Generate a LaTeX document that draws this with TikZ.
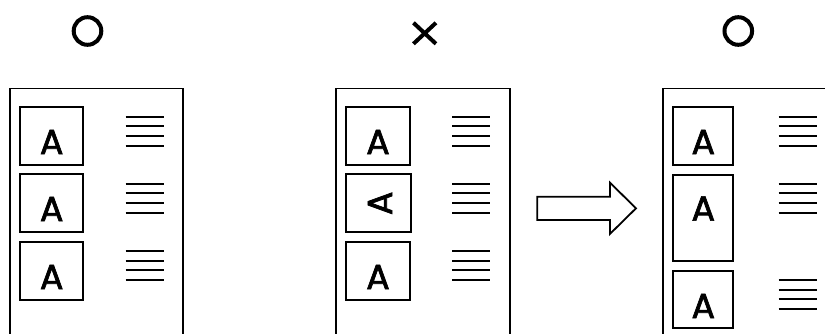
\documentclass[tikz,border=0pt]{standalone}
\usepackage{fontspec}
\setmainfont{Poppins}
\newfontfamily\afont{Poppins}[FakeBold=2]
\usetikzlibrary{shapes.misc}
\begin{document}
\begin{tikzpicture}[x=1pt,y=-1pt,line join=miter,
  pageframe/.style={draw,line width=1.8pt},
  abox/.style={draw,line width=1.8pt,inner sep=0pt},
  txtline/.style={line width=1.8pt},
  letter/.style={font=\afont\fontsize{35}{35}\selectfont,inner sep=0pt},
  mark/.style={line width=4pt}]
\useasboundingbox (0,0) rectangle (825,334);
\begin{scope}
\clip (0,0) rectangle (825,334);
% marks
\node[circle,draw,line width=4pt,minimum size=27.6pt,inner sep=0pt] (ok1) at (87.5,31) {};
\node[cross out,draw,line width=4pt,minimum width=18.5pt,minimum height=17pt,inner sep=0pt] (ng) at (424.7,33.3) {};
\node[circle,draw,line width=4pt,minimum size=27.6pt,inner sep=0pt] (ok2) at (738.3,31) {};
% pages
\draw[pageframe] (10,400) -- (10,88.5) -- (183,88.5) -- (183,400);
\draw[pageframe] (336.3,400) -- (336.3,88.5) -- (509.7,88.5) -- (509.7,400);
\draw[pageframe] (663.3,400) -- (663.3,88.5) -- (836.7,88.5) -- (836.7,400);
% page 1 boxes
\node[abox,minimum width=63.6pt,minimum height=58pt] (p1a) at (51.5,136) {};
\node[abox,minimum width=63.6pt,minimum height=58pt] (p1b) at (51.5,203) {};
\node[abox,minimum width=63.6pt,minimum height=58pt] (p1c) at (51.5,271) {};
\node[letter] (p1al) at (51.7,142) {A};
\node[letter] (p1bl) at (51.7,209) {A};
\node[letter] (p1cl) at (51.7,277) {A};
% page 2 boxes
\node[abox,minimum width=64pt,minimum height=58pt] (p2a) at (378,136) {};
\node[abox,minimum width=65.3pt,minimum height=58pt] (p2b) at (378.7,203) {};
\node[abox,minimum width=64pt,minimum height=58pt] (p2c) at (378,271) {};
\node[letter] (p2al) at (378,142) {A};
\node[letter,rotate=90] (p2bl) at (380,203.3) {A};
\node[letter] (p2cl) at (378,277) {A};
% page 3 boxes
\node[abox,minimum width=60.6pt,minimum height=57.7pt] (p3a) at (703,135.8) {};
\node[abox,minimum width=60.6pt,minimum height=86.3pt] (p3b) at (703,217.8) {};
\node[abox,minimum width=60.6pt,minimum height=57.6pt] (p3c) at (703,299.5) {};
\node[letter] (p3al) at (703.3,142) {A};
\node[letter] (p3bl) at (703.3,208.5) {A};
\node[letter] (p3cl) at (703.3,306) {A};
% text lines
\foreach \xa/\xb in {125.7/163.7,452/490.3}{
  \foreach \ya in {116.7,183.7,251}{
    \foreach \k in {0,1,2,3}{
      \draw[txtline] (\xa,\ya+9.67*\k) -- (\xb,\ya+9.67*\k);
    }
  }
}
\foreach \ya in {116.7,183.7,280}{
  \foreach \k in {0,1,2,3}{
    \draw[txtline] (778.7,\ya+9.67*\k) -- (816.7,\ya+9.67*\k);
  }
}
% arrow
\draw[line width=1.8pt] (537.3,196.7) -- (610,196.7) -- (610,182.7) -- (636,208.3) -- (610,233.9) -- (610,220) -- (537.3,220) -- cycle;
\end{scope}
\end{tikzpicture}
\end{document}
